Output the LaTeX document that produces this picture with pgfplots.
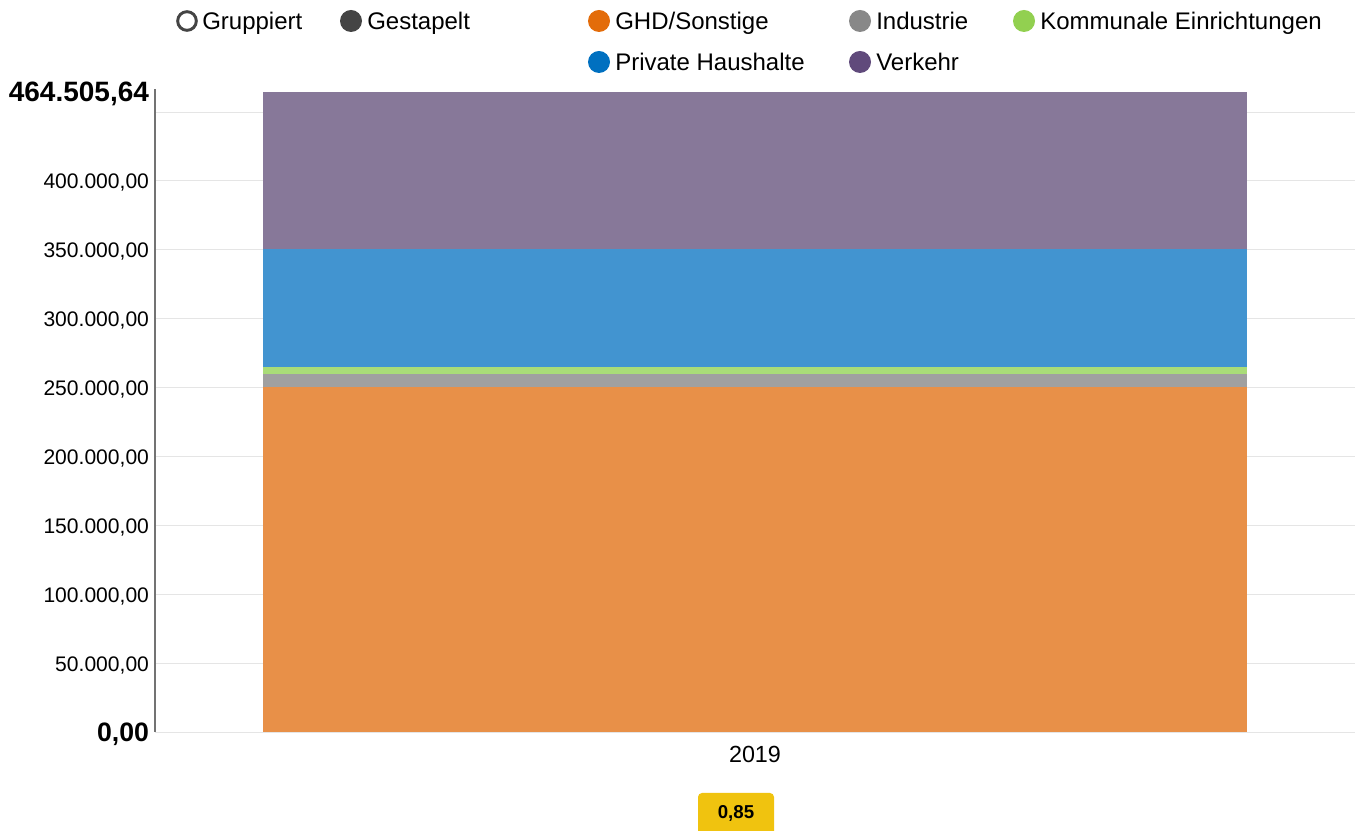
\documentclass[border=0pt]{standalone}
\usepackage{pgfplots}
\pgfplotsset{compat=1.18}
\usepackage{fontspec}
\setmainfont{Liberation Sans}

\definecolor{cGHD}{HTML}{E89048}
\definecolor{cInd}{HTML}{A0A0A0}
\definecolor{cKom}{HTML}{A9DC78}
\definecolor{cPH}{HTML}{4294D0}
\definecolor{cVerk}{HTML}{877899}
\definecolor{lGHD}{HTML}{E36C0A}
\definecolor{lInd}{HTML}{888888}
\definecolor{lKom}{HTML}{92D050}
\definecolor{lPH}{HTML}{0070C0}
\definecolor{lVerk}{HTML}{604A7B}
\definecolor{dark}{HTML}{444444}
\definecolor{badge}{HTML}{F0C30F}

\begin{document}
\begin{tikzpicture}
% page frame: 1 px = 0.75pt
\useasboundingbox (0,0) rectangle (1023pt,623.25pt);

\begin{axis}[
    at={(116.25pt,74.25pt)},
    anchor=south west,
    scale only axis,
    width=900pt,
    height=480pt,
    xmin=-0.5, xmax=0.5,
    ymin=0, ymax=464505.64,
    ybar stacked,
    bar width=737.25pt,
    axis line style={draw=none},
    xtick={0},
    xticklabels={2019},
    major tick length=0pt,
    scaled y ticks=false,
    ytick={0,50000,100000,150000,200000,250000,300000,350000,400000,450000},
    yticklabels={{\fontsize{20pt}{22pt}\selectfont\bfseries 0{,}00},{50.000{,}00},{100.000{,}00},{150.000{,}00},{200.000{,}00},{250.000{,}00},{300.000{,}00},{350.000{,}00},{400.000{,}00},{}},
    extra y ticks={464505.64},
    extra y tick labels={{\fontsize{21pt}{23pt}\selectfont\bfseries 464.505{,}64}},
    extra y tick style={grid=none},
    ymajorgrids,
    grid style={draw=black!10, line width=0.6pt},
    yticklabel style={font=\fontsize{15.8pt}{18pt}\selectfont, text=black, xshift=-1pt, yshift=-1.5pt},
    xticklabel style={font=\fontsize{17.5pt}{20pt}\selectfont, text=black, yshift=-7pt},
    clip=false,
]
\addplot[fill=cGHD, draw=none] coordinates {(0,250300)};
\addplot[fill=cInd, draw=none] coordinates {(0,9400)};
\addplot[fill=cKom, draw=none] coordinates {(0,5000)};
\addplot[fill=cPH, draw=none] coordinates {(0,86000)};
\addplot[fill=cVerk, draw=none] coordinates {(0,113805.64)};
\draw[black!55, line width=0.8pt] (rel axis cs:0,0) -- (rel axis cs:0,1.005);
\end{axis}

\begin{scope}[x=0.75pt, y=-0.75pt, shift={(0,623.25pt)}, font=\fontsize{18pt}{20pt}\selectfont]
  % legend
  \draw[dark, line width=2.2pt] (187,21) circle (7pt);
  \node[anchor=base west, inner sep=0pt] at (202,30) {Gruppiert};
  \fill[dark] (351,21) circle (8.25pt);
  \node[anchor=base west, inner sep=0pt] at (367,30) {Gestapelt};
  \fill[lGHD] (599,21) circle (8.25pt);
  \node[anchor=base west, inner sep=0pt] at (615,30) {GHD/Sonstige};
  \fill[lInd] (860,21) circle (8.25pt);
  \node[anchor=base west, inner sep=0pt] at (876,30) {Industrie};
  \fill[lKom] (1024,21) circle (8.25pt);
  \node[anchor=base west, inner sep=0pt] at (1040,30) {Kommunale Einrichtungen};
  \fill[lPH] (599,62) circle (8.25pt);
  \node[anchor=base west, inner sep=0pt] at (615,71) {Private Haushalte};
  \fill[lVerk] (860,62) circle (8.25pt);
  \node[anchor=base west, inner sep=0pt] at (876,71) {Verkehr};
  % badge
  \fill[badge, rounded corners=3pt] (698,793) rectangle (774,840);
  \node[font=\fontsize{14pt}{16pt}\selectfont\bfseries] at (736,813) {0,85};
\end{scope}
\end{tikzpicture}
\end{document}
